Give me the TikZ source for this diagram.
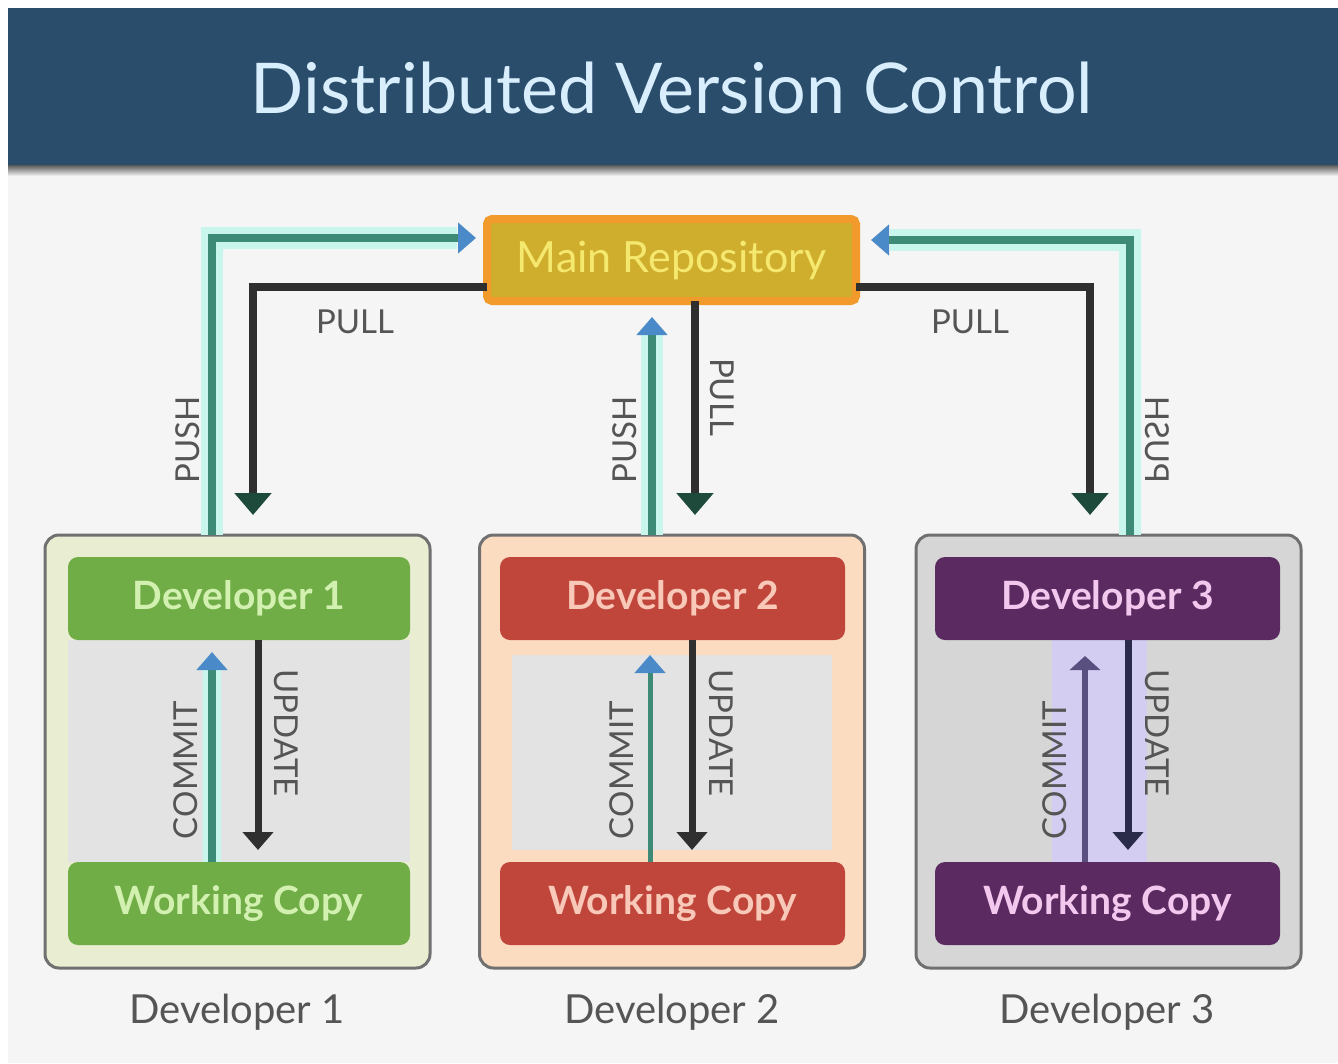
\documentclass[tikz,border=0pt]{standalone}
\usepackage{fontspec}
\setmainfont{Lato}
\usetikzlibrary{arrows.meta}
\definecolor{hdr}{HTML}{2B4D6C}
\definecolor{titlec}{HTML}{D8EEFC}
\definecolor{bgc}{HTML}{F5F5F5}
\definecolor{repofill}{HTML}{CFAE2E}
\definecolor{repodraw}{HTML}{F29B2C}
\definecolor{repotext}{HTML}{F5E86E}
\definecolor{tealc}{HTML}{3D8A76}
\definecolor{haloc}{HTML}{C8F6EC}
\definecolor{arrblue}{HTML}{4A8AC8}
\definecolor{darkl}{HTML}{2F2F2F}
\definecolor{arrdark}{HTML}{1E4A3C}
\definecolor{lblgray}{HTML}{555555}
\definecolor{boxdraw}{HTML}{707070}
\definecolor{devA}{HTML}{70AD47}
\definecolor{devAtext}{HTML}{D2F0B0}
\definecolor{devB}{HTML}{C0453B}
\definecolor{devBtext}{HTML}{F8C8B8}
\definecolor{devC}{HTML}{5B2A61}
\definecolor{devCtext}{HTML}{F2C8EE}
\definecolor{tintA}{HTML}{E9EED2}
\definecolor{tintB}{HTML}{FCDCC1}
\definecolor{tintC}{HTML}{D6D6D6}
\definecolor{innerg}{HTML}{E3E3E3}
\definecolor{lav}{HTML}{D3CDF2}
\definecolor{lavcore}{HTML}{5A5080}
\definecolor{navy}{HTML}{2A2A4A}
\begin{document}
\begin{tikzpicture}[x=1pt,y=-1pt,
  every node/.style={inner sep=0pt, outer sep=0pt},
  devbox/.style={draw=boxdraw, line width=3pt, rounded corners=14pt, minimum width=385pt, minimum height=433pt},
  bar/.style={rounded corners=10pt, minimum width=342pt, minimum height=83pt, font=\fontsize{39}{48}\selectfont\bfseries},
  lbl/.style={text=lblgray, font=\fontsize{33}{40}\selectfont},
  devlbl/.style={text=lblgray, font=\fontsize{40}{48}\selectfont},
  pushhalo/.style={draw=haloc, line width=22pt},
  pushcore/.style={draw=tealc, line width=8pt, -{Triangle[width=30pt,length=18pt,color=arrblue]}},
  pullline/.style={draw=darkl, line width=8pt, -{Triangle[width=36pt,length=22pt,color=arrdark]}},
  updline/.style={draw=darkl, line width=7pt, -{Triangle[width=30pt,length=18pt,color=darkl]}}
]
\useasboundingbox (0,0) rectangle (1338,1063);
\fill[white] (0,0) rectangle (1338,1063);
\fill[bgc] (8,165) rectangle (1338,1063);
\shade[top color=black!65, bottom color=bgc] (8,165) rectangle (1338,176);
\fill[hdr] (8,8) rectangle (1338,165);
\node[text=titlec, font=\fontsize{70}{80}\selectfont] (title) at (672,88) {Distributed Version Control};

% main repository
\node[fill=repofill, draw=repodraw, line width=8pt, rounded corners=5pt,
      minimum width=369pt, minimum height=82pt, text=repotext,
      font=\fontsize{43}{50}\selectfont] (repo) at (671.5,260) {Main Repository};

% developer containers
\node[devbox, fill=tintA] (box1) at (237.5,751.5) {};
\node[devbox, fill=tintB] (box2) at (672,751.5) {};
\node[devbox, fill=tintC] (box3) at (1108.5,751.5) {};
\fill[innerg] (68,640) rectangle (410,862);
\fill[innerg] (512,655) rectangle (832,850);
\fill[lav] (1052,640) rectangle (1147,862);

% bars
\node[bar, fill=devA, text=devAtext] (dev1) at (239,598.5) {Developer 1};
\node[bar, fill=devA, text=devAtext] (wc1) at (239,903.5) {Working Copy};
\node[bar, fill=devB, text=devBtext, minimum width=345pt] (dev2) at (672.5,598.5) {Developer 2};
\node[bar, fill=devB, text=devBtext, minimum width=345pt] (wc2) at (672.5,903.5) {Working Copy};
\node[bar, fill=devC, text=devCtext, minimum width=345pt] (dev3) at (1107.5,598.5) {Developer 3};
\node[bar, fill=devC, text=devCtext, minimum width=345pt] (wc3) at (1107.5,903.5) {Working Copy};

% captions
\node[devlbl] (cap1) at (237,1012) {Developer 1};
\node[devlbl] (cap2) at (672,1012) {Developer 2};
\node[devlbl] (cap3) at (1107,1012) {Developer 3};

% connector anchor points
\coordinate (p1s) at ([xshift=-25.5pt]box1.north);
\coordinate (l1e) at ([xshift=15.5pt]box1.north);
\coordinate (p2s) at ([xshift=-20pt]box2.north);
\coordinate (p3s) at ([xshift=21.5pt]box3.north);
\coordinate (l3e) at ([xshift=-18.5pt]box3.north);
\coordinate (rpl) at ([yshift=22pt]repo.west);
\coordinate (rpr) at ([yshift=20pt]repo.east);
\coordinate (rll) at ([yshift=-27pt]repo.west);
\coordinate (rlr) at ([yshift=-27pt]repo.east);
\coordinate (rls) at ([xshift=23.5pt]repo.south);

% push (left)
\draw[pushhalo, shorten >=30pt] (p1s) |- (rpl);
\draw[pushcore, shorten >=11pt] (p1s) |- (rpl);
% push (middle)
\draw[pushhalo, shorten >=34pt] (p2s) -- (p2s |- repo.south);
\draw[pushcore, shorten >=16pt] (p2s) -- (p2s |- repo.south);
% push (right)
\draw[pushhalo, shorten >=34pt] (p3s) |- (rpr);
\draw[pushcore, shorten >=15pt] (p3s) |- (rpr);
% pulls
\draw[pullline, shorten >=20pt] (rll) -| (l1e);
\draw[pullline, shorten >=20pt] (rls) -- (rls |- box2.north);
\draw[pullline, shorten >=20pt] (rlr) -| (l3e);

% commit / update inside boxes
\coordinate (c1) at ([xshift=-27pt]wc1.north);
\coordinate (u1) at ([xshift=19pt]dev1.south);
\coordinate (c2) at ([xshift=-22.5pt]wc2.north);
\coordinate (u2) at ([xshift=19.5pt]dev2.south);
\coordinate (c3) at ([xshift=-22.5pt]wc3.north);
\coordinate (u3) at ([xshift=20.5pt]dev3.south);

\draw[pushhalo, line width=18pt, shorten >=20pt] (c1) -- (c1 |- dev1.south);
\draw[pushcore, shorten >=12pt] (c1) -- (c1 |- dev1.south);
\draw[updline, shorten >=12pt] (u1) -- (u1 |- wc1.north);

\draw[draw=tealc, line width=5pt, -{Triangle[width=30pt,length=18pt,color=arrblue]}, shorten >=15pt] (c2) -- (c2 |- dev2.south);
\draw[updline, shorten >=12pt] (u2) -- (u2 |- wc2.north);

\draw[draw=lavcore, line width=6pt, -{Triangle[width=30pt,length=14pt,color=lavcore]}, shorten >=16pt] (c3) -- (c3 |- dev3.south);
\draw[draw=navy, line width=7pt, -{Triangle[width=30pt,length=18pt,color=navy]}, shorten >=12pt] (u3) -- (u3 |- wc3.north);

% connector labels
\node[lbl, rotate=90] (lpush1) at (188,440) {PUSH};
\node[lbl] (lpull1) at (355,322) {PULL};
\node[lbl, rotate=90] (lpush2) at (625,440) {PUSH};
\node[lbl, rotate=-90] (lpull2) at (722,397) {PULL};
\node[lbl] (lpull3) at (970,322) {PULL};
\node[lbl, xscale=-1, rotate=90] (lpush3) at (1157,440) {PUSH};
\node[lbl, rotate=90] (lcom1) at (186,770) {COMMIT};
\node[lbl, rotate=-90] (lupd1) at (286,733) {UPDATE};
\node[lbl, rotate=90] (lcom2) at (622,770) {COMMIT};
\node[lbl, rotate=-90] (lupd2) at (721,733) {UPDATE};
\node[lbl, rotate=90] (lcom3) at (1055,770) {COMMIT};
\node[lbl, rotate=-90] (lupd3) at (1157,733) {UPDATE};
\end{tikzpicture}
\end{document}
